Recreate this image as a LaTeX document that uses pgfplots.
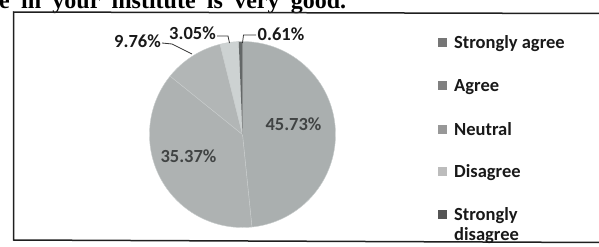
\documentclass[border=0pt]{standalone}
\usepackage{pgfplots}
\pgfplotsset{compat=1.18}
\usepackage{pgfplotstable}
\usepackage{fontspec}
\setmainfont{Carlito}
\newfontfamily\titlefont{Liberation Serif}

\makeatletter
\newcommand\setpagebox{%
  \pgfresetboundingbox
  \pgf@relevantforpicturesizetrue
  \path (0bp,0bp) rectangle (599bp,-247bp);%
  \pgf@relevantforpicturesizefalse}
\makeatother

\definecolor{pieSA}{RGB}{170,175,175}
\definecolor{pieA}{RGB}{174,178,178}
\definecolor{pieN}{RGB}{178,182,182}
\definecolor{pieD}{RGB}{205,210,210}
\definecolor{pieSD}{RGB}{100,104,104}
\definecolor{pieEdge}{RGB}{200,204,204}
\definecolor{legSA}{RGB}{118,118,118}
\definecolor{legA}{RGB}{128,128,128}
\definecolor{legN}{RGB}{152,152,152}
\definecolor{legD}{RGB}{188,188,188}
\definecolor{legSD}{RGB}{85,85,85}
\definecolor{lblin}{RGB}{65,68,68}
\definecolor{lblout}{RGB}{25,25,25}

\pgfplotstableread{
idx value
0 45.73
1 35.37
2 9.76
3 3.05
4 0.61
}\piedata
\pgfplotstablegetelem{0}{value}\of\piedata\let\vA\pgfplotsretval
\pgfplotstablegetelem{1}{value}\of\piedata\let\vB\pgfplotsretval
\pgfplotstablegetelem{2}{value}\of\piedata\let\vC\pgfplotsretval
\pgfplotstablegetelem{3}{value}\of\piedata\let\vD\pgfplotsretval
\pgfplotstablegetelem{4}{value}\of\piedata\let\vE\pgfplotsretval
\pgfmathsetmacro\tot{\vA+\vB+\vC+\vD+\vE}
\pgfmathsetmacro\aA{90}
\pgfmathsetmacro\aB{90-360*(\vA/\tot)}
\pgfmathsetmacro\aC{\aB-360*(\vB/\tot)}
\pgfmathsetmacro\aD{\aC-360*(\vC/\tot)}
\pgfmathsetmacro\aE{\aD-360*(\vD/\tot)}
\pgfmathsetmacro\aF{-270}

\begin{document}
\begin{tikzpicture}
\clip (0bp,0bp) rectangle (599bp,-247bp);
\begin{axis}[
  scale only axis, width=186bp, height=186bp,
  xmin=-1, xmax=1, ymin=-1, ymax=1,
  hide axis, clip=false,
  anchor=center, at={(242.5bp,-134.5bp)},
]
\addplot[fill=pieSA, draw=pieEdge, line width=0.4bp, domain=\aB:\aA, samples=80, variable=\t] ({cos(t)},{sin(t)}) -- (axis cs:0,0) -- cycle;
\addplot[fill=pieA, draw=pieEdge, line width=0.4bp, domain=\aC:\aB, samples=70, variable=\t] ({cos(t)},{sin(t)}) -- (axis cs:0,0) -- cycle;
\addplot[fill=pieN, draw=pieEdge, line width=0.4bp, domain=\aD:\aC, samples=25, variable=\t] ({cos(t)},{sin(t)}) -- (axis cs:0,0) -- cycle;
\addplot[fill=pieD, draw=pieEdge, line width=0.4bp, domain=\aE:\aD, samples=10, variable=\t] ({cos(t)},{sin(t)}) -- (axis cs:0,0) -- cycle;
\addplot[fill=pieSD, draw=none, domain=\aF:\aE, samples=5, variable=\t] ({cos(t)},{sin(t)}) -- (axis cs:0,0) -- cycle;
\end{axis}
\begin{scope}[x=1bp,y=-1bp]
% title fragment
\node[anchor=base west, inner sep=0pt] at (-1,8.5)
  {\titlefont\bfseries\fontsize{24bp}{28bp}\selectfont\hbox to 347bp{e\hfill in\hfill your\hfill institute\hfill is\hfill very\hfill good.}};
% frame
\draw[line width=1.5bp, black!88] (600,13.5) -- (13.5,12) -- (13.5,240) -- (600,242.5);
% labels
\begin{scope}[every node/.style={inner sep=0pt, anchor=base, font=\fontsize{18.5bp}{21bp}\selectfont\bfseries}]
\node[text=lblout] at (137.5,47) {9.76\%};
\node[text=lblout] at (192.5,39) {3.05\%};
\node[text=lblout] at (281,40.5) {0.61\%};
\node[text=lblin] at (293.5,130.5) {45.73\%};
\node[text=lblin] at (188.5,162.5) {35.37\%};
\end{scope}
% leader lines
\draw[line width=0.8bp, black!80] (162,43) -- (172,44) -- (192,54);
\draw[line width=0.8bp, black!80] (217,36) -- (228,36) -- (229.5,43);
\draw[line width=0.8bp, black!80] (256,35) -- (243.5,35) -- (242.5,43);
% legend
\begin{scope}[every node/.style={inner sep=0pt, anchor=base west, text=lblout, font=\fontsize{18.5bp}{21bp}\selectfont\bfseries}]
\fill[legSA] (438,38) rectangle (447,47);
\node at (454,48.5) {Strongly agree};
\fill[legA] (438,81) rectangle (447,90);
\node at (454,91.5) {Agree};
\fill[legN] (438,124.5) rectangle (447,133.5);
\node at (454,135) {Neutral};
\fill[legD] (438,167) rectangle (447,176);
\node at (454,177.5) {Disagree};
\fill[legSD] (438,209.5) rectangle (447,218.5);
\node at (454,220) {Strongly};
\node at (454,240) {disagree};
\end{scope}
\end{scope}
\setpagebox
\end{tikzpicture}
\end{document}
